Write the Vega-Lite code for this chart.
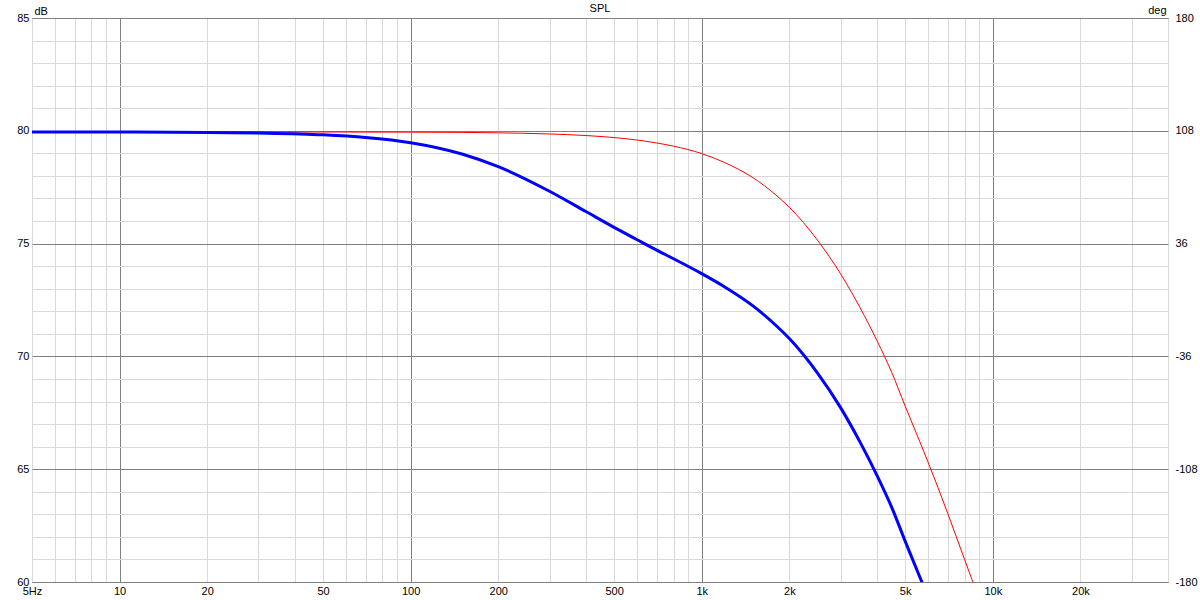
{
  "$schema": "https://vega.github.io/schema/vega-lite/v6.json",
  "autosize": "none",
  "width": 1136,
  "height": 564,
  "padding": {"left": 32, "top": 18, "right": 32, "bottom": 18},
  "background": "#ffffff",
  "config": {
    "view": {"stroke": "#6e6e6e", "strokeWidth": 1},
    "font": "Liberation Sans",
    "axis": {"labelFont": "Liberation Sans", "labelFontSize": 11, "labelColor": "#000000", "titleFont": "Liberation Sans", "titleFontSize": 11, "titleFontWeight": "normal", "titleColor": "#000000", "domain": false, "ticks": false}
  },
  "title": {"text": "SPL", "fontSize": 11, "fontWeight": "normal", "font": "Liberation Sans", "color": "#000000", "anchor": "middle", "frame": "group", "offset": -10},
  "datasets": {
    "red": [
      {"freq": 5, "db": 79.95},
      {"freq": 10, "db": 79.95},
      {"freq": 20, "db": 79.95},
      {"freq": 50, "db": 79.947},
      {"freq": 70, "db": 79.944},
      {"freq": 100, "db": 79.94},
      {"freq": 150, "db": 79.93},
      {"freq": 200, "db": 79.91},
      {"freq": 300, "db": 79.86},
      {"freq": 400, "db": 79.79},
      {"freq": 500, "db": 79.7},
      {"freq": 600, "db": 79.59},
      {"freq": 700, "db": 79.46},
      {"freq": 800, "db": 79.32},
      {"freq": 1000, "db": 78.99},
      {"freq": 1200, "db": 78.59},
      {"freq": 1500, "db": 77.92},
      {"freq": 1800, "db": 77.15},
      {"freq": 2000, "db": 76.61},
      {"freq": 2500, "db": 75.15},
      {"freq": 3000, "db": 73.66},
      {"freq": 3500, "db": 72.16},
      {"freq": 4000, "db": 70.7},
      {"freq": 4500, "db": 69.28},
      {"freq": 5000, "db": 67.8},
      {"freq": 6000, "db": 65.3},
      {"freq": 7000, "db": 63.05},
      {"freq": 8000, "db": 61.0},
      {"freq": 9000, "db": 59.2},
      {"freq": 10000, "db": 57.5}
    ],
    "blue": [
      {"freq": 5, "db": 79.95},
      {"freq": 10, "db": 79.945},
      {"freq": 20, "db": 79.93},
      {"freq": 30, "db": 79.9},
      {"freq": 50, "db": 79.82},
      {"freq": 70, "db": 79.7},
      {"freq": 100, "db": 79.47},
      {"freq": 150, "db": 78.97},
      {"freq": 200, "db": 78.41},
      {"freq": 300, "db": 77.32},
      {"freq": 400, "db": 76.42},
      {"freq": 500, "db": 75.72},
      {"freq": 600, "db": 75.17},
      {"freq": 700, "db": 74.71},
      {"freq": 800, "db": 74.33},
      {"freq": 1000, "db": 73.67},
      {"freq": 1200, "db": 73.08},
      {"freq": 1500, "db": 72.24},
      {"freq": 1800, "db": 71.37},
      {"freq": 2000, "db": 70.79},
      {"freq": 2500, "db": 69.26},
      {"freq": 3000, "db": 67.73},
      {"freq": 3500, "db": 66.2},
      {"freq": 4000, "db": 64.73},
      {"freq": 4500, "db": 63.3},
      {"freq": 5000, "db": 61.81},
      {"freq": 6000, "db": 59.3},
      {"freq": 7000, "db": 57.05}
    ]
  },
  "layer": [
    {
      "data": {"name": "red"},
      "mark": {"type": "line", "color": "#ff0000", "strokeWidth": 1, "clip": true, "interpolate": "monotone"},
      "encoding": {
        "x": {
          "field": "freq", "type": "quantitative",
          "scale": {"type": "log", "domain": [5, 40000], "nice": false},
          "axis": {
            "title": null,
            "values": [5,6,7,8,9,10,20,30,40,50,60,70,80,90,100,200,300,400,500,600,700,800,900,1000,2000,3000,4000,5000,6000,7000,8000,9000,10000,20000,30000,40000],
            "labelExpr": "datum.value==5?'5Hz':(indexof([10,20,50,100,200,500],datum.value)>=0?''+datum.value:(indexof([1000,2000,5000,10000,20000],datum.value)>=0?(datum.value/1000)+'k':''))",
            "labelOverlap": false,
            "labelPadding": 3,
            "labelFlush": false,
            "grid": true,
            "gridColor": {"condition": {"test": "indexof([10,100,1000,10000],datum.value)>=0", "value": "#808080"}, "value": "#d9d9d9"},
            "gridWidth": 1
          }
        },
        "y": {
          "field": "db", "type": "quantitative",
          "scale": {"domain": [60, 85], "nice": false, "zero": false},
          "axis": {
            "orient": "left",
            "title": "dB",
            "titleAngle": 0,
            "titleX": 2,
            "titleY": -4,
            "titleAlign": "left",
            "titleBaseline": "alphabetic",
            "values": [60,61,62,63,64,65,66,67,68,69,70,71,72,73,74,75,76,77,78,79,80,81,82,83,84,85],
            "labelExpr": "datum.value%5==0?''+datum.value:''",
            "labelOverlap": false,
            "labelPadding": 3,
            "labelFlush": false,
            "grid": true,
            "gridColor": {"condition": {"test": "datum.value%5==0", "value": "#808080"}, "value": "#d9d9d9"},
            "gridWidth": 1
          }
        }
      }
    },
    {
      "data": {"name": "blue"},
      "mark": {"type": "line", "color": "#0000ff", "strokeWidth": 3, "clip": true, "interpolate": "monotone"},
      "encoding": {
        "x": {"field": "freq", "type": "quantitative", "scale": {"type": "log", "domain": [5, 40000], "nice": false}},
        "y": {
          "field": "db", "type": "quantitative",
          "scale": {"domain": [60, 85], "nice": false, "zero": false},
          "axis": {
            "orient": "right",
            "title": "deg",
            "titleAngle": 0,
            "titleX": -2,
            "titleY": -5,
            "titleAlign": "right",
            "titleBaseline": "alphabetic",
            "values": [60,65,70,75,80,85],
            "labelExpr": "''+round((datum.value-72.5)*14.4)",
            "labelOverlap": false,
            "labelPadding": 7,
            "labelFlush": false,
            "grid": false
          }
        }
      }
    }
  ],
  "resolve": {"axis": {"y": "independent"}}
}
